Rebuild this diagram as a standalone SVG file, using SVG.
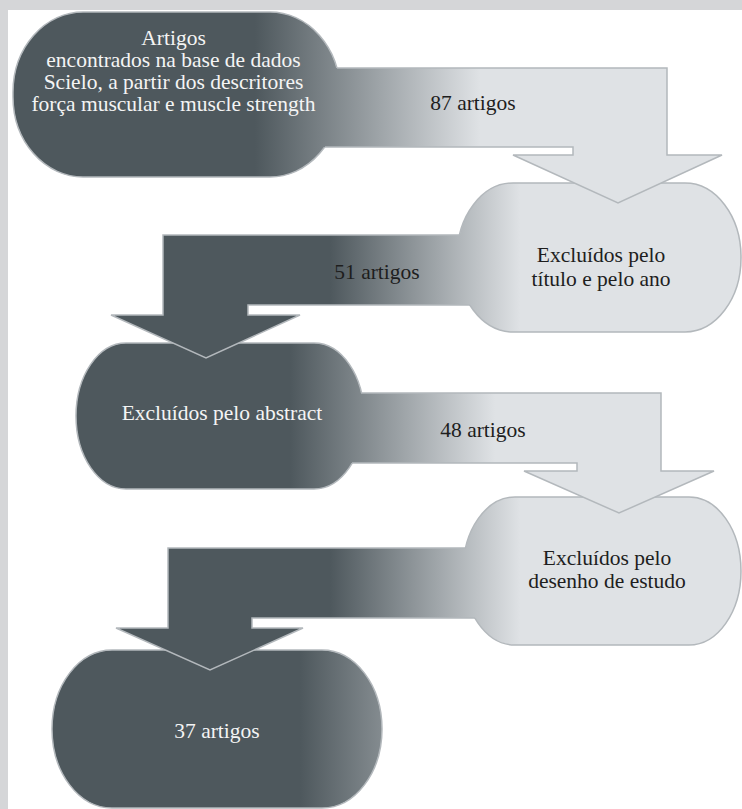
<svg xmlns="http://www.w3.org/2000/svg" width="742" height="809" viewBox="0 0 742 809">
<defs>
<linearGradient id="g1" gradientUnits="userSpaceOnUse" x1="255" y1="0" x2="480" y2="0"><stop offset="0" stop-color="#4e585d"/><stop offset="1" stop-color="#dfe2e5"/></linearGradient>
<linearGradient id="g2" gradientUnits="userSpaceOnUse" x1="330" y1="0" x2="520" y2="0"><stop offset="0" stop-color="#4e585d"/><stop offset="1" stop-color="#dfe2e5"/></linearGradient>
<linearGradient id="g3" gradientUnits="userSpaceOnUse" x1="290" y1="0" x2="495" y2="0"><stop offset="0" stop-color="#4e585d"/><stop offset="1" stop-color="#dfe2e5"/></linearGradient>
<linearGradient id="g4" gradientUnits="userSpaceOnUse" x1="330" y1="0" x2="520" y2="0"><stop offset="0" stop-color="#4e585d"/><stop offset="1" stop-color="#dfe2e5"/></linearGradient>
<linearGradient id="g5" gradientUnits="userSpaceOnUse" x1="300" y1="0" x2="520" y2="0"><stop offset="0" stop-color="#4e585d"/><stop offset="1" stop-color="#dfe2e5"/></linearGradient>
</defs>
<style>
.edge{fill:none;stroke:#b3b8bc;stroke-width:1.5;stroke-linejoin:miter}
.node{stroke:#b3b8bc;stroke-width:1.5}
text{font-family:"Liberation Serif","Times New Roman",serif;font-size:21.5px;text-anchor:middle}
.w{fill:#f4f4f4}
.k{fill:#1e1e1e}
</style>
<rect x="0" y="0" width="742" height="809" fill="#d5d6d8"/>
<rect x="8" y="10" width="734" height="799" fill="#ffffff"/>

<g id="node1"><rect class="node" x="13" y="12" width="327" height="165" rx="70" ry="80" fill="url(#g1)"/></g>
<g id="node2"><rect class="node" x="457" y="183" width="284" height="149" rx="56" ry="74" fill="url(#g2)"/></g>
<g id="node3"><rect class="node" x="76" y="343" width="288" height="146" rx="50" ry="73" fill="url(#g3)"/></g>
<g id="node4"><rect class="node" x="463" y="497" width="278" height="148" rx="52" ry="74" fill="url(#g4)"/></g>
<g id="node5"><rect class="node" x="52" y="650" width="330" height="158" rx="60" ry="79" fill="url(#g5)"/></g>

<g id="connectors">
<g id="arrow1">
<polygon points="300,68 667,68 667,155 722,155 618,203 513,155 573,155 573,147 300,147" fill="url(#g1)"/>
<polyline class="edge" points="337,68 667,68 667,155 722,155 618,203 513,155 573,155 573,147 325,147"/>
</g>
<g id="arrow2">
<polygon points="490,235 163,235 163,315 111,315 206,358 300,315 248,315 248,305 490,305" fill="url(#g2)"/>
<polyline class="edge" points="459,235 163,235 163,315 111,315 206,358 300,315 248,315 248,305 470,305"/>
</g>
<g id="arrow3">
<polygon points="330,393 661,393 661,471 714,471 619,513 524,471 577,471 577,463 330,463" fill="url(#g3)"/>
<polyline class="edge" points="361,393 661,393 661,471 714,471 619,513 524,471 577,471 577,463 352,463"/>
</g>
<g id="arrow4">
<polygon points="500,548 168,548 168,628 116,628 210,670 303,628 252,628 252,618 500,618" fill="url(#g4)"/>
<polyline class="edge" points="466,548 168,548 168,628 116,628 210,670 303,628 252,628 252,618 475,618"/>
</g>
<text class="k" x="473" y="110">87 artigos</text>
<text class="k" x="377" y="279">51 artigos</text>
<text class="k" x="483" y="437">48 artigos</text>
</g>

<g id="labels">
<text class="w" x="173.5" y="45">Artigos</text>
<text class="w" x="173.5" y="67">encontrados na base de dados</text>
<text class="w" x="173.5" y="89">Scielo, a partir dos descritores</text>
<text class="w" x="173.5" y="111">força muscular e muscle strength</text>
<text class="k" x="601" y="262">Excluídos pelo</text>
<text class="k" x="601" y="286">título e pelo ano</text>
<text class="w" x="222" y="420">Excluídos pelo abstract</text>
<text class="k" x="607" y="565">Excluídos pelo</text>
<text class="k" x="607" y="588">desenho de estudo</text>
<text class="w" x="217" y="738">37 artigos</text>
</g>
</svg>
